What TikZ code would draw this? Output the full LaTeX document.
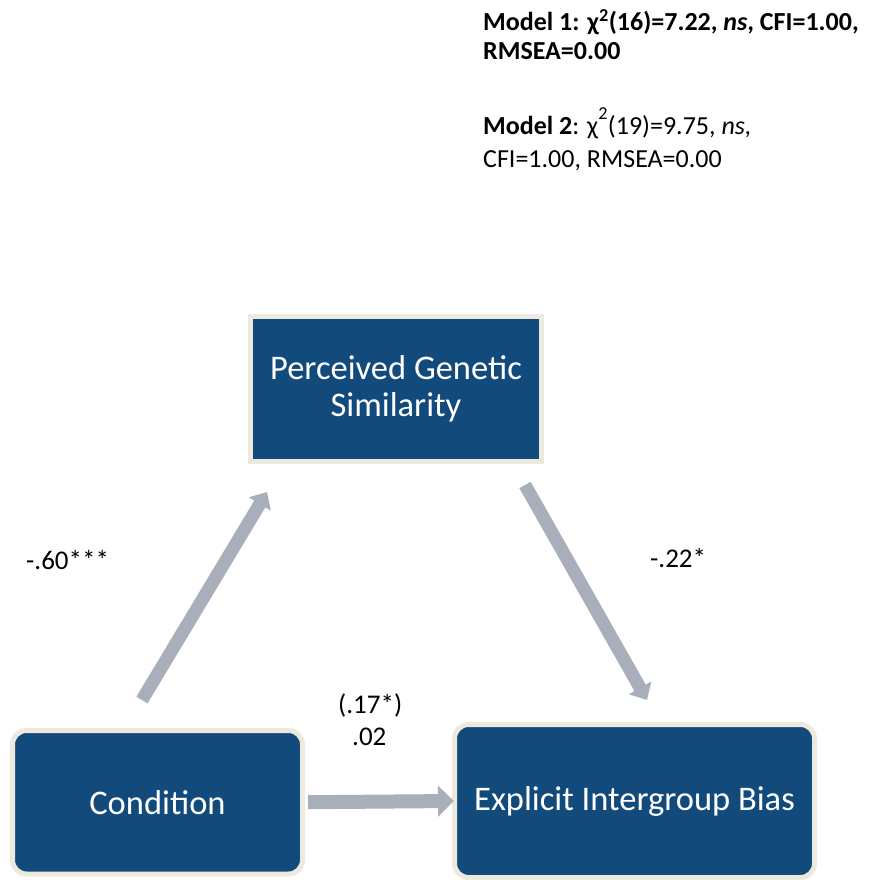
\documentclass[tikz,border=0pt]{standalone}
\usepackage{fontspec}
\setmainfont{Carlito}
\usetikzlibrary{arrows.meta}
\definecolor{boxblue}{HTML}{134A7C}
\definecolor{boxedge}{HTML}{EDE9DC}
\definecolor{arrowgray}{HTML}{A9AEBB}
\begin{document}
\begin{tikzpicture}[x=1pt,y=-1pt,
  varbox/.style={draw=boxedge, line width=5pt, fill=boxblue, text=white,
    font=\fontsize{34.5}{37}\selectfont, align=center, inner sep=0pt},
  fitnote/.style={anchor=base west, inner sep=0pt, font=\fontsize{26}{30}\selectfont},
  coef/.style={anchor=base west, inner sep=0pt, font=\fontsize{27}{31}\selectfont},
  fatarrow/.style={draw=arrowgray, line width=14pt, -{Triangle[width=30pt,length=16pt]}},
  slimarrow/.style={draw=arrowgray, line width=13pt, -{Triangle[width=25pt,length=14pt]}}
]
\useasboundingbox (0,0) rectangle (868,880);

% boxes
\node[varbox, minimum width=290.5pt, minimum height=145pt] (pgs) at (396,389) {Perceived Genetic\\Similarity};
\node[varbox, rounded corners=14pt, minimum width=290pt, minimum height=143.5pt] (cond) at (157.5,802.25) {Condition};
\node[varbox, rounded corners=14pt, minimum width=360pt, minimum height=153pt] (bias) at (634.5,801) {Explicit Intergroup Bias};

% arrows
\coordinate (a1s) at (142,700);
\coordinate (a1e) at (267,492);
\coordinate (a2s) at (525,485);
\coordinate (a2e) at (647,700);
\draw[slimarrow] (a1s) -- (a1e);
\draw[slimarrow] (a2s) -- (a2e);
\draw[fatarrow, shorten <=3pt, shorten >=-2pt] (cond.east) -- (bias.west);

% coefficients
\node[coef] (c1) at (26,569) {-.60***};
\node[coef] (c2) at (650,567) {-.22*};
\node[coef] (c3) at (338,713) {(.17*)};
\node[coef] (c4) at (352,745) {.02};

% fit statistics
\node[fitnote] (m1a) at (483,31) {\textbf{Model 1: χ\textsuperscript{2}(16)=7.22, \textit{ns}, CFI=1.00,}};
\node[fitnote] (m1b) at (483,60) {\textbf{RMSEA=0.00}};
\node[fitnote] (m2a) at (483,135) {\textbf{Model 2}: χ\textsuperscript{\raisebox{0.35em}{2}}(19)=9.75, \textit{ns,}};
\node[fitnote] (m2b) at (483,167) {CFI=1.00, RMSEA=0.00};
\end{tikzpicture}
\end{document}
